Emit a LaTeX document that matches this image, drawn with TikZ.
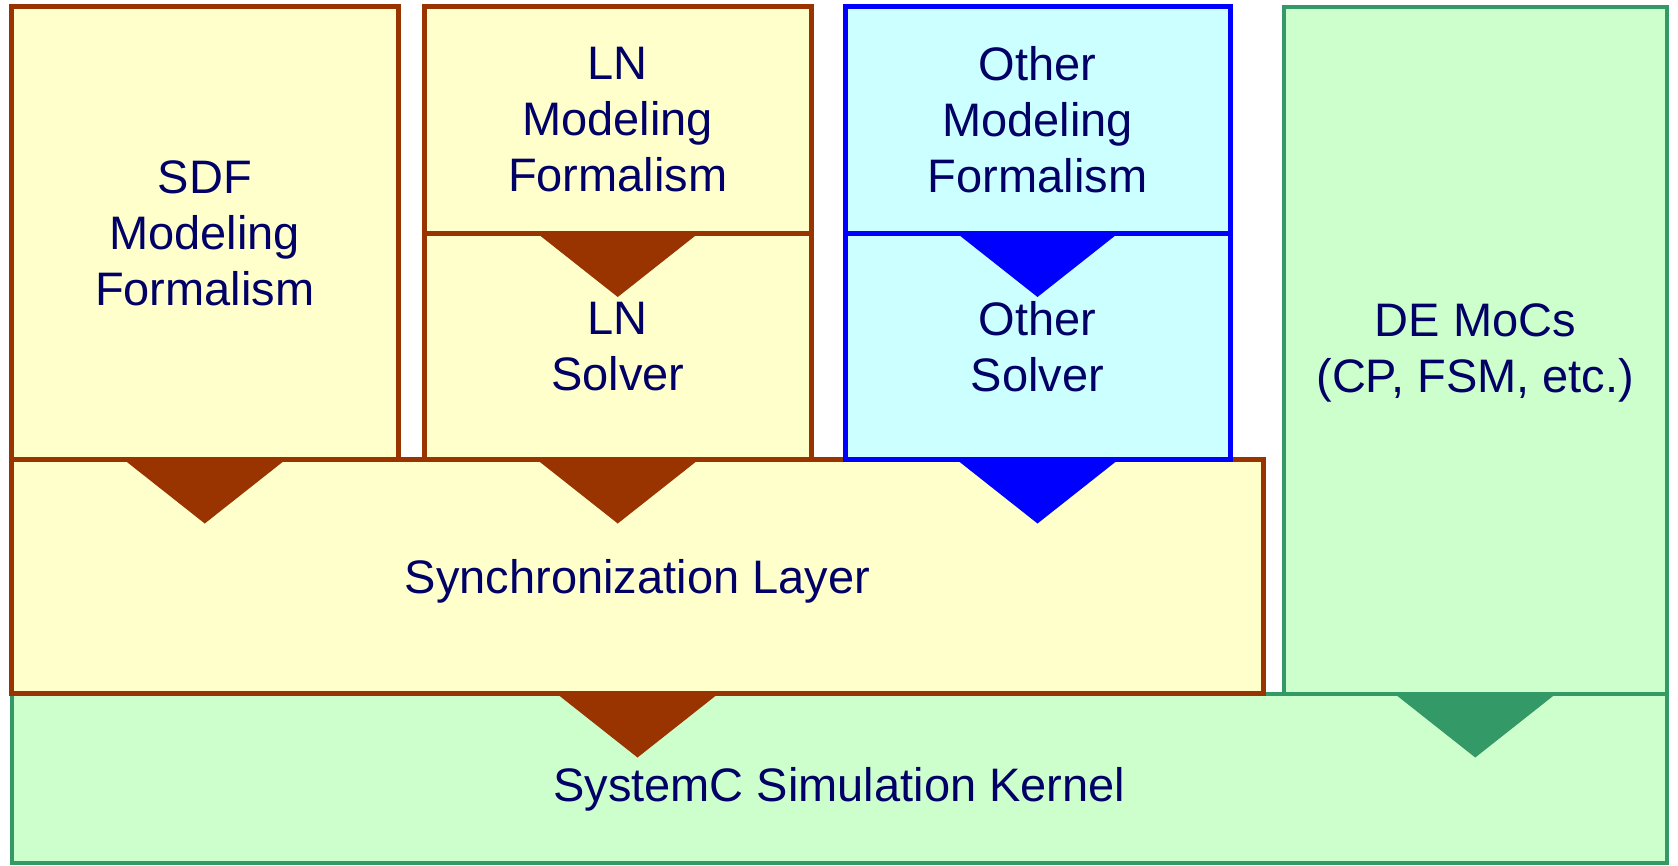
\documentclass[tikz,border=0pt]{standalone}
\usepackage{fontspec}
\setmainfont{Liberation Sans}
\usetikzlibrary{calc}
\definecolor{brn}{HTML}{993300}
\definecolor{ylw}{HTML}{FFFFCC}
\definecolor{blu}{HTML}{0000FF}
\definecolor{cyn}{HTML}{CCFFFF}
\definecolor{grn}{HTML}{339966}
\definecolor{lgrn}{HTML}{CCFFCC}
\definecolor{txt}{HTML}{000066}
\newcommand\downtri[2]{\fill[#1] ($(#2)+(-81,0)$) -- ($(#2)+(81,0)$) -- ($(#2)+(0,64)$) -- cycle;}
\newcommand\lowered[2]{\raisebox{-#1}[\height][\depth]{#2}}
\begin{document}
\begin{tikzpicture}[x=1pt,y=-1pt,
  box/.style={rectangle, line width=5pt, inner sep=0pt, outer sep=0pt, align=center,
    text=txt, font=\fontsize{47}{56}\selectfont},
  ybox/.style={box, draw=brn, fill=ylw},
  cbox/.style={box, draw=blu, fill=cyn},
  gbox/.style={box, draw=grn, fill=lgrn, line width=4pt}]
\useasboundingbox (0,0) rectangle (1678,865);
\fill[white] (0,0) rectangle (1678,865);
\node[gbox, minimum width=1655.5pt, minimum height=169pt] (kernel) at (839.25,778) {\lowered{11pt}{SystemC Simulation Kernel}};
\node[gbox, minimum width=383.5pt, minimum height=687pt] (de) at (1475.25,350) {\lowered{3pt}{DE MoCs}\\\lowered{3pt}{(CP, FSM, etc.)}};
\node[ybox, minimum width=1252pt, minimum height=234pt] (sync) at (637.5,576.5) {\lowered{5pt}{Synchronization Layer}};
\node[ybox, minimum width=386.5pt, minimum height=453pt] (sdf) at (204.75,233) {SDF\\Modeling\\Formalism};
\node[ybox, minimum width=386.5pt, minimum height=226.5pt] (lnm) at (617.75,119.75) {LN\\Modeling\\Formalism};
\node[ybox, minimum width=386.5pt, minimum height=226.5pt] (lns) at (617.75,346.25) {LN\\Solver};
\node[cbox, minimum width=385pt, minimum height=226.5pt] (otm) at (1037.5,119.75) {Other\\Modeling\\Formalism};
\node[cbox, minimum width=385pt, minimum height=226.5pt] (ots) at (1037.5,346.25) {Other\\Solver};
\downtri{brn}{sdf.south}
\downtri{brn}{lnm.south}
\downtri{brn}{lns.south}
\downtri{blu}{otm.south}
\downtri{blu}{ots.south}
\downtri{brn}{sync.south}
\downtri{grn}{de.south}
\end{tikzpicture}
\end{document}
